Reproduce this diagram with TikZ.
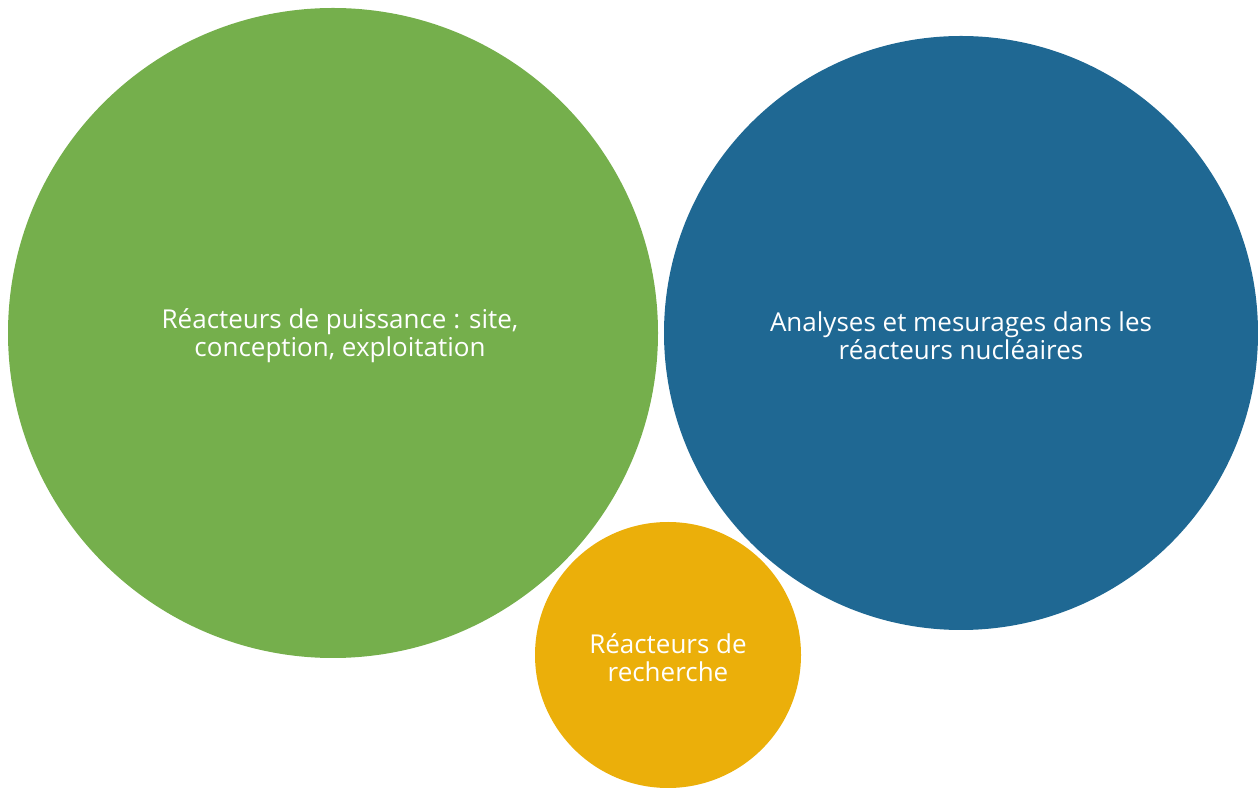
\documentclass[tikz,border=0pt]{standalone}
\usepackage{fontspec}
\setmainfont{Open Sans}
\usepackage{xcolor}
\usepackage{tikz}
\usetikzlibrary{positioning}

\definecolor{greenbub}{HTML}{75AF4C}
\definecolor{bluebub}{HTML}{1F6893}
\definecolor{yellowbub}{HTML}{EBAF0A}

\begin{document}
\begin{tikzpicture}[
  x=1pt, y=1pt,
  bubble/.style={circle, inner sep=0pt, draw=none},
  lbl/.style={text=white, align=center, yshift=-3pt,
              font=\fontsize{26}{28}\selectfont}
]
  \useasboundingbox (0,0) rectangle (1258,787);
  % circles
  \node[bubble, fill=greenbub, minimum size=650pt] (power) at (333,454) {};
  \node[bubble, fill=bluebub, minimum size=594pt] (analysis) at (961,454) {};
  \node[bubble, fill=yellowbub, minimum size=266pt] (research) at (668,132) {};
  % labels
  \node[lbl, xshift=7pt] (powerlbl) at (power) {Réacteurs de puissance : site,\\conception, exploitation};
  \node[lbl] (analysislbl) at (analysis) {Analyses et mesurages dans les\\réacteurs nucléaires};
  \node[lbl] (researchlbl) at (research) {Réacteurs de\\recherche};
\end{tikzpicture}
\end{document}
